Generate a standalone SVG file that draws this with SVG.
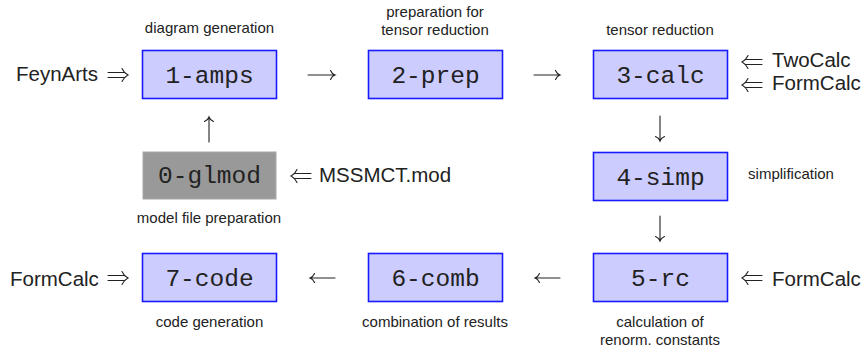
<svg xmlns="http://www.w3.org/2000/svg" width="863" height="351" viewBox="0 0 863 351">
<style>
.box{fill:#ccccff;stroke:#1a1aff;stroke-width:1.6}
.gbox{fill:#999999;stroke:#a8a8a8;stroke-width:1}
.mono{font-family:"Liberation Mono","DejaVu Sans Mono",monospace;font-size:24.5px;fill:#222;text-anchor:middle}
.cap{font-family:"Liberation Sans","DejaVu Sans",sans-serif;font-size:15px;fill:#222;text-anchor:middle}
.big{font-family:"Liberation Sans","DejaVu Sans",sans-serif;font-size:20.5px;fill:#222}
.arr{fill:none;stroke:#222;stroke-width:1.1;stroke-linecap:round}
</style>
<rect width="863" height="351" fill="#ffffff"/>
<g id="n0">
<rect class="gbox" x="143" y="152" width="133" height="47"/>
<text class="mono" x="209.5" y="183">0-glmod</text>
<text class="cap" x="209" y="223">model file preparation</text>
</g>
<g id="n1">
<rect class="box" x="142.5" y="50.5" width="134" height="48"/>
<text class="mono" x="209.5" y="83">1-amps</text>
<text class="cap" x="209.5" y="33">diagram generation</text>
</g>
<g id="n2">
<rect class="box" x="368.5" y="50.5" width="134" height="48"/>
<text class="mono" x="435.5" y="83">2-prep</text>
<text class="cap" x="435" y="17">preparation for</text>
<text class="cap" x="435" y="35">tensor reduction</text>
</g>
<g id="n3">
<rect class="box" x="593.5" y="50.5" width="134" height="48"/>
<text class="mono" x="660.5" y="83">3-calc</text>
<text class="cap" x="660" y="35">tensor reduction</text>
</g>
<g id="n4">
<rect class="box" x="593.5" y="152.5" width="134" height="48"/>
<text class="mono" x="660.5" y="185">4-simp</text>
<text class="cap" x="791" y="179">simplification</text>
</g>
<g id="n5">
<rect class="box" x="593.5" y="253.5" width="134" height="48"/>
<text class="mono" x="660.5" y="286">5-rc</text>
<text class="cap" x="660" y="327">calculation of</text>
<text class="cap" x="660" y="345">renorm. constants</text>
</g>
<g id="n6">
<rect class="box" x="368.5" y="253.5" width="134" height="48"/>
<text class="mono" x="435.5" y="286">6-comb</text>
<text class="cap" x="435" y="327">combination of results</text>
</g>
<g id="n7">
<rect class="box" x="142.5" y="253.5" width="134" height="48"/>
<text class="mono" x="209.5" y="286">7-code</text>
<text class="cap" x="209.5" y="327">code generation</text>
</g>
<g id="inputs">
<text class="big" x="16" y="81">FeynArts</text>
<text class="big" x="772" y="67">TwoCalc</text>
<text class="big" x="772" y="90">FormCalc</text>
<text class="big" x="319" y="182">MSSMCT.mod</text>
<text class="big" x="10" y="286">FormCalc</text>
<text class="big" x="772" y="286">FormCalc</text>
</g>
<g id="connectors">
<!-- single arrows -->
<path class="arr" d="M308,75 H335 M330.5,70.5 Q332,74 335,75 Q332,76 330.5,79.5"/>
<path class="arr" d="M534,75 H560 M555.5,70.5 Q557,74 560,75 Q557,76 555.5,79.5"/>
<path class="arr" d="M660,116 V141 M655.5,136.5 Q659,138 660,141 Q661,138 664.5,136.5"/>
<path class="arr" d="M660,216 V241 M655.5,236.5 Q659,238 660,241 Q661,238 664.5,236.5"/>
<path class="arr" d="M560,278 H535 M539.5,273.5 Q538,277 535,278 Q538,279 539.5,282.5"/>
<path class="arr" d="M335,278 H310 M314.5,273.5 Q313,277 310,278 Q313,279 314.5,282.5"/>
<path class="arr" d="M209,142 V117 M204.5,121.5 Q208,120 209,117 Q210,120 213.5,121.5"/>
<!-- double arrows -->
<path class="arr" d="M108,72.5 H125 M108,77.5 H125 M122,68.5 Q124,73 128,75 Q124,77 122,81.5"/>
<path class="arr" d="M108,275.5 H125 M108,280.5 H125 M122,271.5 Q124,276 128,278 Q124,280 122,284.5"/>
<path class="arr" d="M762,59.5 H745 M762,64.5 H745 M748,55.5 Q746,60 742,62 Q746,64 748,68.5"/>
<path class="arr" d="M762,82.5 H745 M762,87.5 H745 M748,78.5 Q746,83 742,85 Q746,87 748,91.5"/>
<path class="arr" d="M311,173.5 H294 M311,178.5 H294 M297,169.5 Q295,174 291,176 Q295,178 297,182.5"/>
<path class="arr" d="M762,275.5 H745 M762,280.5 H745 M748,271.5 Q746,276 742,278 Q746,280 748,284.5"/>
</g>
</svg>
